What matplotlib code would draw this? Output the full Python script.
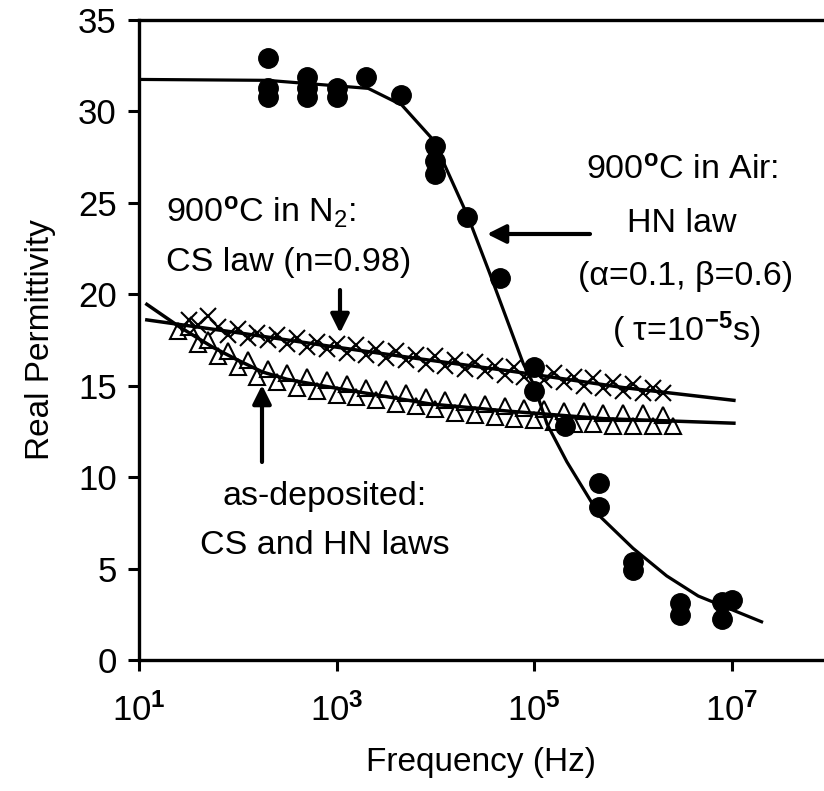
import numpy as np
import matplotlib
matplotlib.use("Agg")
import matplotlib.pyplot as plt

plt.rcParams['font.family'] = ['Liberation Sans', 'DejaVu Sans']
plt.rcParams['mathtext.fontset'] = 'custom'
plt.rcParams['mathtext.rm'] = 'Liberation Sans'
plt.rcParams['mathtext.it'] = 'Liberation Sans:italic'
plt.rcParams['mathtext.bf'] = 'Liberation Sans:bold'
plt.rcParams['mathtext.default'] = 'regular'

# 900C in air, measured points (filled circles)
air_f = [200, 200, 200, 500, 500, 500, 1e3, 1e3, 2e3, 4.5e3,
         1e4, 1e4, 1e4, 2.1e4, 4.5e4, 1e5, 1e5, 2.05e5, 4.5e5, 4.5e5,
         1e6, 1e6, 3e6, 3e6, 8e6, 8e6, 1e7]
air_eps = [32.9, 31.3, 30.8, 31.9, 31.3, 30.8, 31.3, 30.8, 31.9, 30.9,
           28.1, 27.3, 26.6, 24.2, 20.9, 16.0, 14.7, 12.8, 9.66, 8.38,
           5.37, 4.92, 3.1, 2.46, 3.19, 2.23, 3.28]
# HN fit curve for air sample
air_fit_f = [10, 200, 2.09e3, 4.57e3, 9.55e3, 2.14e4, 3.55e4, 7.76e4, 1e5,
             1.35e5, 2.14e5, 4.68e5, 1.0e6, 2.19e6, 4.57e6, 2.0e7]
air_fit_eps = [31.75, 31.7, 31.26, 30.35, 28.43, 24.24, 21.14, 16.2, 15.0,
               12.9, 10.84, 7.83, 6.11, 4.6, 3.5, 2.09]

# 900C in N2 (crosses)
n2_f = [32, 40, 50, 63, 79, 100, 126, 158, 200, 251, 316, 398, 501, 631, 794,
        1e3, 1.26e3, 1.58e3, 2e3, 2.51e3, 3.16e3, 3.98e3, 5.01e3, 6.31e3, 7.94e3,
        1e4, 1.26e4, 1.58e4, 2e4, 2.51e4, 3.16e4, 3.98e4, 5.01e4, 6.31e4, 7.94e4,
        1e5, 1.26e5, 1.58e5, 2e5, 2.51e5, 3.16e5, 3.98e5, 5.01e5, 6.31e5, 7.94e5,
        1e6, 1.26e6, 1.58e6, 2e6]
n2_eps = [18.6, 18.3, 18.8, 18.2, 17.8, 18.1, 17.6, 17.9, 17.5, 17.8,
          17.3, 17.6, 17.1, 17.4, 17.0, 17.3, 16.8, 17.2, 16.7, 17.0,
          16.5, 16.9, 16.4, 16.7, 16.2, 16.6, 16.1, 16.4, 15.9, 16.3,
          15.8, 16.1, 15.6, 16.0, 15.5, 15.8, 15.3, 15.7, 15.2, 15.5,
          15.0, 15.4, 14.9, 15.2, 14.7, 15.1, 14.6, 14.9, 14.6]
n2_fit_f = [12, 100, 759, 6.31e3, 5.75e4, 7.94e5, 1.05e7]
n2_fit_eps = [18.6, 17.9, 17.2, 16.5, 15.8, 14.9, 14.2]

# as-deposited (open triangles)
asd_f = [25, 32, 40, 50, 63, 79, 100, 126, 158, 200, 251, 316, 398, 501, 631, 794,
         1e3, 1.26e3, 1.58e3, 2e3, 2.51e3, 3.16e3, 3.98e3, 5.01e3, 6.31e3, 7.94e3,
         1e4, 1.26e4, 1.58e4, 2e4, 2.51e4, 3.16e4, 3.98e4, 5.01e4, 6.31e4, 7.94e4,
         1e5, 1.26e5, 1.58e5, 2e5, 2.51e5, 3.16e5, 3.98e5, 5.01e5, 6.31e5, 7.94e5,
         1e6, 1.26e6, 1.58e6, 2e6, 2.51e6]
asd_eps = [18.0, 18.2, 17.3, 17.5, 16.6, 16.9, 16.0, 16.4, 15.5, 15.9,
           15.2, 15.7, 14.9, 15.5, 14.7, 15.3, 14.5, 15.1, 14.4, 14.9,
           14.2, 14.8, 14.0, 14.6, 13.9, 14.4, 13.7, 14.2, 13.5, 14.1,
           13.4, 14.0, 13.3, 13.9, 13.2, 13.8, 13.1, 13.7, 13.0, 13.6,
           12.9, 13.6, 12.9, 13.5, 12.8, 13.5, 12.8, 13.5, 12.8, 13.4, 12.8]
asd_fit_f = [12, 26, 56, 100, 178, 316, 708, 8.91e3, 5.75e4, 5.01e5, 1.05e7]
asd_fit_eps = [19.45, 18.2, 17.1, 16.4, 15.75, 15.35, 15.0, 14.0, 13.6, 13.2, 12.95]

xtick_vals = [1e1, 1e3, 1e5, 1e7]
xtick_labels = ['10$^{\\mathbf{1}}$', '10$^{\\mathbf{3}}$', '10$^{\\mathbf{5}}$', '10$^{\\mathbf{7}}$']

W, H = 824, 791
fig = plt.figure(figsize=(W / 100, H / 100), dpi=100)
ax = fig.add_axes([139 / W, 131 / H, (W - 139) / W, 640 / H])

def px(x, y):
    return (x / W, 1 - y / H)

ax.plot(asd_f, asd_eps, linestyle='none', marker='^', ms=11.5, mfc='white',
        mec='black', mew=1.5, zorder=2)
ax.plot(n2_f, n2_eps, linestyle='none', marker='x', ms=12, color='black',
        mew=1.5, zorder=3)
ax.plot(n2_fit_f, n2_fit_eps, color='black', lw=2.5, zorder=4)
ax.plot(asd_fit_f, asd_fit_eps, color='black', lw=2.5, zorder=4)
ax.plot(air_fit_f, air_fit_eps, color='black', lw=2.3, zorder=4)
ax.plot(air_f, air_eps, linestyle='none', marker='o', ms=14, color='black', zorder=5)

ax.set_xscale('log')
ax.set_xlim(10, 10 ** 7.933)
ax.set_ylim(0, 35)
ax.set_xticks(xtick_vals)
ax.set_xticklabels(xtick_labels)
ax.set_xticks([], minor=True)
ax.set_yticks(range(0, 36, 5))
ax.tick_params(axis='both', direction='out', length=8, width=2.2, labelsize=25)
ax.tick_params(axis='x', pad=16)
ax.tick_params(axis='y', pad=8)
for s in ['left', 'bottom', 'top']:
    ax.spines[s].set_linewidth(2.4)
ax.spines['right'].set_visible(False)

ax.set_xlabel('Frequency (Hz)', fontsize=24, labelpad=14)
ax.set_ylabel('Real Permittivity', fontsize=24, labelpad=16)

fs = 24.5
fig.text(*px(166, 212), '900$^{\\mathbf{o}}$C in N$_2$:', fontsize=fs, ha='left', va='center')
fig.text(*px(166, 262), 'CS law (n=0.98)', fontsize=fs, ha='left', va='center')
fig.text(*px(325, 497), 'as-deposited:', fontsize=fs, ha='center', va='center')
fig.text(*px(325, 545), 'CS and HN laws', fontsize=fs, ha='center', va='center')
fig.text(*px(682, 171), '900$^{\\mathbf{o}}$C in Air:', fontsize=fs, ha='center', va='center')
fig.text(*px(682, 223), 'HN law', fontsize=fs, ha='center', va='center')
fig.text(*px(686, 277), '(\u03b1=0.1, \u03b2=0.6)', fontsize=fs, ha='center', va='center')
fig.text(*px(686, 330), '( \u03c4=10$^{\\mathbf{-5}}$s)', fontsize=fs, ha='center', va='center')

arrow = dict(arrowstyle='-|>', lw=3, color='black', mutation_scale=28, shrinkA=0, shrinkB=0)
fig.add_artist(plt.Annotation('', xy=px(340, 333), xytext=px(340, 290),
                              xycoords='figure fraction', arrowprops=arrow))
fig.add_artist(plt.Annotation('', xy=px(262, 385), xytext=px(262, 462),
                              xycoords='figure fraction', arrowprops=arrow))
fig.add_artist(plt.Annotation('', xy=px(487, 234), xytext=px(590, 234),
                              xycoords='figure fraction', arrowprops=arrow))

fig.savefig('out.png', dpi=100)
